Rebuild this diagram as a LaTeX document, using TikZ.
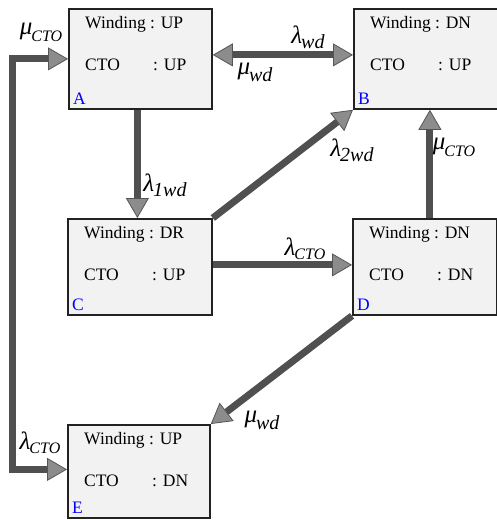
\documentclass[tikz,border=0pt]{standalone}
\usepackage{fontspec}
\setmainfont{Liberation Serif}
\usetikzlibrary{arrows.meta,calc}
\definecolor{linegray}{HTML}{505050}
\definecolor{tipgray}{HTML}{8C8C8C}
\definecolor{tipedge}{HTML}{555555}
\definecolor{boxfill}{HTML}{F2F2F2}
\definecolor{boxedge}{HTML}{222222}
\definecolor{letblue}{HTML}{0000FF}
\newcommand{\rlab}[4]{{\fontsize{25}{25}\selectfont\itshape #1}\kern-1pt\raisebox{-#4}{\fontsize{#3}{#3}\selectfont\itshape #2}}
\tikzset{
  bigtip/.tip={Triangle[length=20pt,width=23pt,line width=0.8pt,fill=tipgray,color=tipedge]},
  box/.style={draw=boxedge, line width=1.8pt, fill=boxfill, inner sep=0pt, anchor=north west},
  txt/.style={font=\fontsize{17.5}{17.5}\selectfont, inner sep=0pt, anchor=base west},
  letter/.style={font=\fontsize{17.5}{17.5}\selectfont, text=letblue, inner sep=0pt, anchor=base west},
  conn/.style={draw=linegray, line width=7pt},
  lab/.style={inner sep=0pt}
}
\begin{document}
\begin{tikzpicture}[x=1pt,y=-1pt]
\useasboundingbox (0,0) rectangle (496,520);
% boxes
\node[box, minimum width=143pt, minimum height=100pt] (A) at (68,8) {};
\node[box, minimum width=144pt, minimum height=100pt] (B) at (353,8) {};
\node[box, minimum width=144pt, minimum height=96pt] (C) at (67,218) {};
\node[box, minimum width=144pt, minimum height=96pt] (D) at (352,218) {};
\node[box, minimum width=142pt, minimum height=93pt] (E) at (67,424) {};
% box texts
\foreach \b/\w/\c in {A/UP/UP, B/DN/UP, C/DR/UP, D/DN/DN, E/UP/DN}{
  \node[txt] (\b w) at ($(\b.north west)+(17,20)$) {Winding : \w};
  \node[txt] (\b c) at ($(\b.north west)+(17,62)$) {CTO};
  \node[txt] (\b v) at ($(\b.north west)+(85,62)$) {: \c};
  \node[letter] (\b l) at ($(\b.south west)+(5,-5)$) {\b};
}
% connectors
\draw[conn, bigtip-bigtip] ([yshift=4pt]A.east) -- ([yshift=4pt]B.west);
\draw[conn, -bigtip] ([xshift=-3pt]A.south) -- ([xshift=-3pt]A.south |- C.north);
\draw[conn, -bigtip] (C.north east) -- (B.south west);
\draw[conn, -bigtip] ([yshift=2pt]C.east) -- ([yshift=2pt]C.east -| D.west);
\draw[conn, -bigtip] ([xshift=5pt]D.north) -- ([xshift=5pt]D.north |- B.south);
\draw[conn, -bigtip] (D.south west) -- (E.north east);
\coordinate (loopx) at (12,0);
\draw[conn, bigtip-bigtip] ([yshift=2pt]E.west) -- ([yshift=2pt]E.west -| loopx) |- (A.west);
% labels
\node[lab] (l1) at (41,32) {\rlab{μ}{CTO}{16}{7pt}};
\node[lab] (l2) at (308,37) {\rlab{λ}{wd}{20}{5pt}};
\node[lab] (l3) at (255,72) {\rlab{μ}{wd}{20}{7pt}};
\node[lab] (l4) at (165,185) {\rlab{λ}{1wd}{20}{5pt}};
\node[lab] (l5) at (352,150) {\rlab{λ}{2wd}{20}{5pt}};
\node[lab] (l6) at (305,249) {\rlab{λ}{CTO}{16}{4pt}};
\node[lab] (l7) at (454,147) {\rlab{μ}{CTO}{16}{7pt}};
\node[lab] (l8) at (262,420) {\rlab{μ}{wd}{20}{7pt}};
\node[lab] (l9) at (40,443) {\rlab{λ}{CTO}{16}{4pt}};
\end{tikzpicture}
\end{document}
